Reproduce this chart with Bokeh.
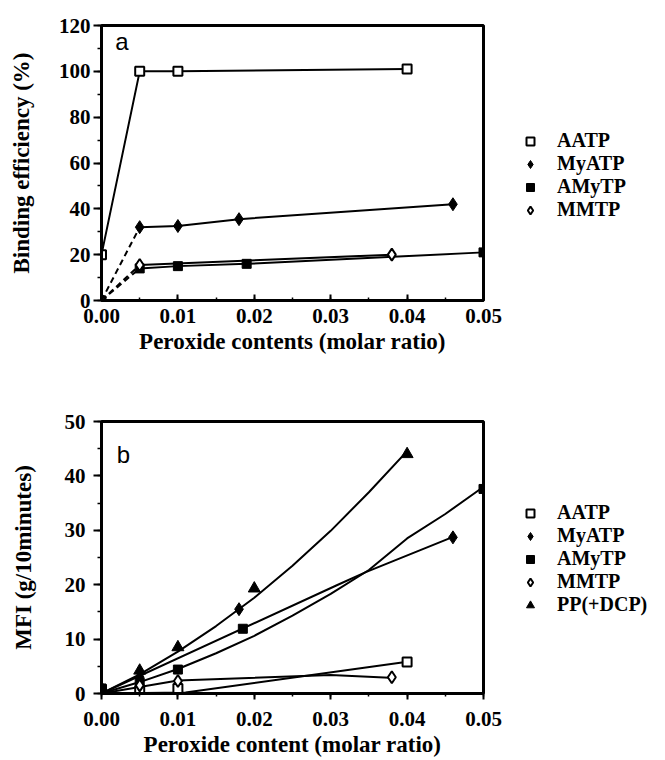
from bokeh.plotting import figure
from bokeh.models import (Legend, LegendItem, SingleIntervalTicker, NumeralTickFormatter,
                          Range1d)
from bokeh.layouts import column
from bokeh.embed import file_html
from bokeh.resources import INLINE
from bokeh.core.properties import value

# ---------------- Panel a: binding efficiency ----------------
a_aatp_x = [0.0, 0.005, 0.01, 0.04]
a_aatp_y = [20, 100, 100, 101]
a_myatp_x = [0.0, 0.005, 0.01, 0.018, 0.046]
a_myatp_y = [0, 32, 32.5, 35.5, 42]
a_amytp_x = [0.0, 0.005, 0.01, 0.019, 0.05]
a_amytp_y = [0, 14, 15, 16, 21]
a_mmtp_x = [0.0, 0.005, 0.038]
a_mmtp_y = [0, 15.5, 20]

# ---------------- Panel b: MFI ----------------
b_aatp_x = [0.0, 0.005, 0.01, 0.04]
b_aatp_y = [0.8, 0.5, 0.9, 5.8]
b_myatp_x = [0.0, 0.005, 0.018, 0.046]
b_myatp_y = [1.0, 3.0, 15.5, 28.7]
b_amytp_x = [0.0, 0.005, 0.01, 0.0185, 0.05]
b_amytp_y = [0.9, 2.0, 4.4, 11.9, 37.6]
b_mmtp_x = [0.0, 0.005, 0.01, 0.038]
b_mmtp_y = [0.5, 1.5, 2.3, 3.0]
b_pp_x = [0.0, 0.005, 0.01, 0.02, 0.04]
b_pp_y = [0.9, 4.2, 8.5, 19.3, 44.0]

# trend curves as drawn in the picture
b_pp_fit_x = [0, 0.005, 0.01, 0.015, 0.02, 0.025, 0.03, 0.035, 0.0397]
b_pp_fit_y = [0, 3.5, 7.7, 12.4, 17.6, 23.5, 29.9, 37.0, 44.1]
b_amytp_fit_x = [0, 0.005, 0.01, 0.015, 0.02, 0.025, 0.03, 0.035, 0.04, 0.045, 0.0496]
b_amytp_fit_y = [0, 2.1, 4.5, 7.4, 10.6, 14.3, 18.3, 22.7, 28.5, 33.0, 37.6]
b_myatp_fit_x = [0, 0.0308, 0.0346, 0.0457]
b_myatp_fit_y = [0, 19.9, 22.3, 28.6]
b_mmtp_fit_x = [0, 0.01, 0.03, 0.0377]
b_mmtp_fit_y = [0, 2.4, 3.4, 2.9]
b_aatp_fit_x = [0, 0.011, 0.0398]
b_aatp_fit_y = [0, 0.2, 5.8]

SERIF = "Liberation Serif"
SANS = "Liberation Sans"
LW = 2


def style(p, x_in, ylab, xlab, y_interval, label_standoff_x):
    p.grid.visible = False
    p.outline_line_color = "black"
    p.outline_line_width = 3
    p.xaxis.ticker = SingleIntervalTicker(interval=0.01, num_minor_ticks=2)
    p.xaxis.formatter = NumeralTickFormatter(format="0.00")
    p.yaxis.ticker = SingleIntervalTicker(interval=y_interval, num_minor_ticks=2)
    for ax in (p.xaxis[0], p.yaxis[0]):
        ax.axis_line_width = 3
        ax.axis_line_color = "black"
        ax.major_tick_line_width = 2
        ax.minor_tick_line_width = 1.5
        ax.major_label_text_font = SERIF
        ax.major_label_text_font_style = "bold"
        ax.major_label_text_font_size = "21px"
        ax.major_label_text_color = "black"
        ax.axis_label_text_font = SERIF
        ax.axis_label_text_font_style = "bold"
        ax.axis_label_text_font_size = "23px"
        ax.axis_label_text_color = "black"
    if x_in:
        p.xaxis.major_tick_in = 6
        p.xaxis.major_tick_out = 0
        p.xaxis.minor_tick_in = 3
        p.xaxis.minor_tick_out = 0
    else:
        p.xaxis.major_tick_in = 0
        p.xaxis.major_tick_out = 6
        p.xaxis.minor_tick_in = 0
        p.xaxis.minor_tick_out = 3
    p.xaxis.major_label_standoff = label_standoff_x
    p.xaxis.axis_label_standoff = 3
    p.yaxis.major_tick_in = 0
    p.yaxis.major_tick_out = 8
    p.yaxis.minor_tick_in = 0
    p.yaxis.minor_tick_out = 4
    p.yaxis.major_label_standoff = 3
    p.yaxis.axis_label_standoff = 22
    p.xaxis.axis_label = xlab
    p.yaxis.axis_label = ylab


def make_legend(items, loc, spacing):
    return Legend(items=items, location=loc, orientation="vertical",
                  label_text_font=SERIF, label_text_font_style="bold",
                  label_text_font_size="20px", label_text_color="black",
                  glyph_width=20, glyph_height=20, label_height=20,
                  spacing=spacing, padding=0, margin=0, label_standoff=17,
                  border_line_color=None, background_fill_alpha=0)


# ---------------- figure a ----------------
pa = figure(frame_width=382, frame_height=275, x_range=Range1d(0, 0.05),
            y_range=Range1d(0, 120), output_backend="svg", toolbar_location=None,
            min_border_left=101, min_border_right=170, min_border_top=25,
            min_border_bottom=75)
style(pa, True, "Binding efficiency (%)", "Peroxide contents (molar ratio)", 20, 8)

pa.line(a_aatp_x, a_aatp_y, line_color="black", line_width=LW)
for xs, ys in ((a_myatp_x, a_myatp_y), (a_amytp_x, a_amytp_y), (a_mmtp_x, a_mmtp_y)):
    pa.line(xs[:2], ys[:2], line_color="black", line_width=LW, line_dash="6 4")
    pa.line(xs[1:], ys[1:], line_color="black", line_width=LW)

ra1 = pa.scatter(a_aatp_x, a_aatp_y, marker="square", size=9, fill_color="white",
                 line_color="black", line_width=2)
ra2 = pa.scatter(a_myatp_x, a_myatp_y, marker="diamond", size=13, fill_color="black",
                 line_color="black")
ra3 = pa.scatter(a_amytp_x, a_amytp_y, marker="square", size=9, fill_color="black",
                 line_color="black")
ra4 = pa.scatter(a_mmtp_x, a_mmtp_y, marker="diamond", size=12, fill_color="white",
                 line_color="black", line_width=2)
pa.text(x=[0.0018], y=[119], text=["a"], text_font=value(SANS), text_font_size="24px",
        text_baseline="top", text_color="black")

pa.add_layout(make_legend([LegendItem(label="AATP", renderers=[ra1]),
                           LegendItem(label="MyATP", renderers=[ra2]),
                           LegendItem(label="AMyTP", renderers=[ra3]),
                           LegendItem(label="MMTP", renderers=[ra4])], (37, 79), 0), "right")

# ---------------- figure b ----------------
pb = figure(frame_width=382, frame_height=272, x_range=Range1d(0, 0.05),
            y_range=Range1d(0, 50), output_backend="svg", toolbar_location=None,
            min_border_left=101, min_border_right=170, min_border_top=46,
            min_border_bottom=62)
style(pb, False, "MFI (g/10minutes)", "Peroxide content (molar ratio)", 10, 12)
pb.yaxis.ticker = SingleIntervalTicker(interval=10, num_minor_ticks=2)
pb.yaxis.major_label_standoff = 8
pb.yaxis.axis_label_standoff = 26

for xs, ys in ((b_pp_fit_x, b_pp_fit_y), (b_amytp_fit_x, b_amytp_fit_y),
               (b_myatp_fit_x, b_myatp_fit_y), (b_mmtp_fit_x, b_mmtp_fit_y),
               (b_aatp_fit_x, b_aatp_fit_y)):
    pb.line(xs, ys, line_color="black", line_width=LW)

rb1 = pb.scatter(b_aatp_x, b_aatp_y, marker="square", size=9, fill_color="white",
                 line_color="black", line_width=2)
rb2 = pb.scatter(b_myatp_x, b_myatp_y, marker="diamond", size=13, fill_color="black",
                 line_color="black")
rb3 = pb.scatter(b_amytp_x, b_amytp_y, marker="square", size=9, fill_color="black",
                 line_color="black")
rb4 = pb.scatter(b_mmtp_x, b_mmtp_y, marker="diamond", size=12, fill_color="white",
                 line_color="black", line_width=2)
rb5 = pb.scatter(b_pp_x, b_pp_y, marker="triangle", size=12, fill_color="black",
                 line_color="black")
pb.text(x=[0.002], y=[46.5], text=["b"], text_font=value(SANS), text_font_size="24px",
        text_baseline="top", text_color="black")

pb.add_layout(make_legend([LegendItem(label="AATP", renderers=[rb1]),
                           LegendItem(label="MyATP", renderers=[rb2]),
                           LegendItem(label="AMyTP", renderers=[rb3]),
                           LegendItem(label="MMTP", renderers=[rb4]),
                           LegendItem(label="PP(+DCP)", renderers=[rb5])], (37, 77), -2), "right")

layout = column(pa, pb, spacing=0)
open("out.html", "w").write(file_html(layout, INLINE))
